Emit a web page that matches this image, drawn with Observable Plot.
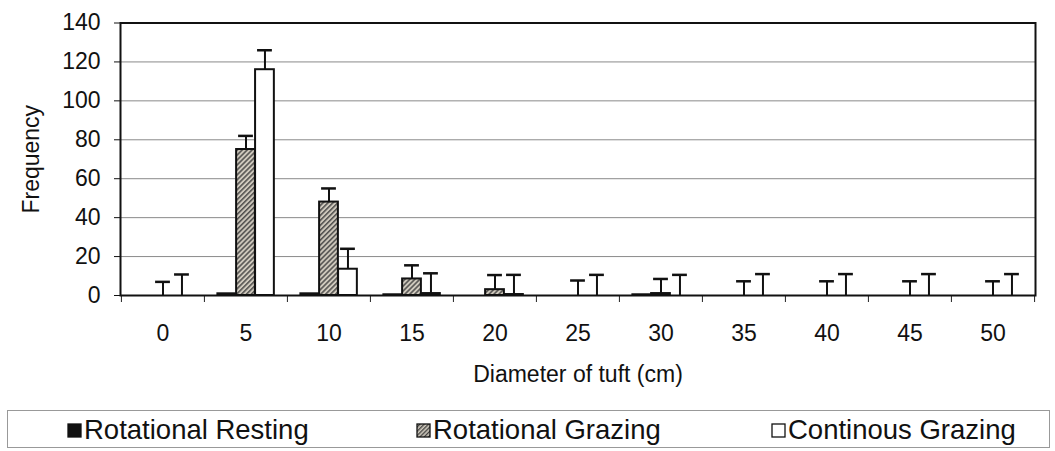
<!DOCTYPE html>
<html>
<head>
<meta charset="utf-8">
<script src="https://cdn.jsdelivr.net/npm/d3@7"></script>
<script src="https://cdn.jsdelivr.net/npm/@observablehq/plot@0.6"></script>
<style>
  body { margin: 0; background: #fff; font-family: "Liberation Sans", Arial, sans-serif; }
  #legend { position: relative; margin: 10px 5px 0 7px; height: 36px; border: 1px solid #999; font-size: 27.5px; color: #111; }
  #legend .item { position: absolute; top: 2px; display: flex; align-items: center; height: 34px; }
  #legend svg { margin-right: 2px; }
</style>
</head>
<body>
<div id="chart"></div>
<div id="legend"></div>
<script>
const diameters = ["0","5","10","15","20","25","30","35","40","45","50"];
const seriesNames = ["Rotational Resting","Rotational Grazing","Continous Grazing"];
const resting = [0, 1, 1, 0.5, 0, 0, 0.5, 0, 0, 0, 0];
const grazing = [0, 75, 48, 8.5, 3, 0, 1, 0, 0, 0, 0];
const grazingErr = [7, 82, 55, 15.5, 10.5, 7.7, 8.5, 7.3, 7.3, 7.3, 7.3];
const continuous = [0, 116, 13.5, 1, 0.5, 0, 0, 0, 0, 0, 0];
const continuousErr = [10.8, 126, 24, 11.4, 10.6, 10.6, 10.6, 11, 11, 11, 11];
const yTicks = [0, 20, 40, 60, 80, 100, 120, 140];

const width = 1055, height = 400;
const mL = 120, mR = 20, mT = 22.5, mB = 105;
const bw = (width - mL - mR) / diameters.length;
const barW = bw * 0.228;
const barInset = (bw - barW) / 2;
const capW = 15;
const capInset = (bw - capW) / 2;

const idx = diameters.map((d, i) => i);

const defsMark = () => {
  const defs = d3.create("svg:defs");
  const p = defs.append("pattern").attr("id", "hatch").attr("patternUnits", "userSpaceOnUse")
    .attr("width", 3.5).attr("height", 3.5).attr("patternTransform", "rotate(45)");
  p.append("rect").attr("width", 3.5).attr("height", 3.5).attr("fill", "#cfc9bd");
  p.append("line").attr("x1", 0.8).attr("y1", 0).attr("x2", 0.8).attr("y2", 3.5)
    .attr("stroke", "#3a3a3a").attr("stroke-width", 1.3);
  return defs.node();
};

const chart = Plot.plot({
  width, height,
  marginLeft: mL, marginRight: mR, marginTop: mT, marginBottom: mB,
  style: { fontFamily: "'Liberation Sans', Arial, sans-serif", fontSize: "23px", color: "#111", background: "#fff" },
  x: { domain: diameters, padding: 0, label: null },
  y: { domain: [0, 140], label: null },
  marks: [
    defsMark,
    Plot.ruleY([20, 40, 60, 80, 100, 120], { stroke: "#8a8a8a", strokeWidth: 1 }),
    Plot.axisY({ ticks: yTicks, tickSize: 6, tickPadding: 14, label: null, stroke: "#111" }),
    Plot.axisX({ tickSize: 0, tickPadding: 29.5, label: null }),
    Plot.ruleX(diameters, { x: d => d, dx: -bw / 2, insetTop: height - mT - mB, insetBottom: -7, stroke: "#222", strokeWidth: 1 }),
    Plot.ruleX([diameters[diameters.length - 1]], { x: d => d, dx: bw / 2, insetTop: height - mT - mB, insetBottom: -7, stroke: "#222", strokeWidth: 1 }),
    // bars
    Plot.barY(idx, { x: i => diameters[i], y: i => resting[i], dx: -barW, insetLeft: barInset, insetRight: barInset, fill: "#111", stroke: "#111", strokeWidth: 1.5 }),
    Plot.barY(idx, { x: i => diameters[i], y: i => grazing[i], insetLeft: barInset, insetRight: barInset, fill: "url(#hatch)", stroke: "#111", strokeWidth: 2 }),
    Plot.barY(idx, { x: i => diameters[i], y: i => continuous[i], dx: barW, insetLeft: barInset, insetRight: barInset, fill: "#fff", stroke: "#111", strokeWidth: 2 }),
    // error bars
    Plot.ruleX(idx, { x: i => diameters[i], y1: i => grazing[i], y2: i => grazingErr[i], stroke: "#111", strokeWidth: 2 }),
    Plot.tickY(idx, { x: i => diameters[i], y: i => grazingErr[i], insetLeft: capInset, insetRight: capInset, stroke: "#111", strokeWidth: 2.5 }),
    Plot.ruleX(idx, { x: i => diameters[i], y1: i => continuous[i], y2: i => continuousErr[i], dx: barW, stroke: "#111", strokeWidth: 2 }),
    Plot.tickY(idx, { x: i => diameters[i], y: i => continuousErr[i], dx: barW, insetLeft: capInset, insetRight: capInset, stroke: "#111", strokeWidth: 2.5 }),
    Plot.frame({ stroke: "#111", strokeWidth: 2 }),
    // axis titles
    Plot.text(["Frequency"], { frameAnchor: "left", textAnchor: "middle", dx: -89, rotate: -90, fontSize: 23, fill: "#111" }),
    Plot.text(["Diameter of tuft (cm)"], { frameAnchor: "bottom", dy: 86.5, fontSize: 23, fill: "#111" })
  ]
});
document.getElementById("chart").appendChild(chart);

// legend
const legend = d3.select("#legend");
const lpos = [59, 408, 763];
const swatchFill = ["#111", "url(#hatch2)", "#fff"];
seriesNames.forEach((name, k) => {
  const item = legend.append("div").attr("class", "item").style("left", lpos[k] + "px");
  const s = item.append("svg").attr("width", 15).attr("height", 15);
  if (k === 1) {
    const p = s.append("defs").append("pattern").attr("id", "hatch2").attr("patternUnits", "userSpaceOnUse")
      .attr("width", 3).attr("height", 3).attr("patternTransform", "rotate(45)");
    p.append("rect").attr("width", 3).attr("height", 3).attr("fill", "#cfc9bd");
    p.append("line").attr("x1", 0.7).attr("y1", 0).attr("x2", 0.7).attr("y2", 3).attr("stroke", "#333").attr("stroke-width", 1.2);
  }
  s.append("rect").attr("x", 1).attr("y", 1).attr("width", 13).attr("height", 13)
    .attr("fill", swatchFill[k]).attr("stroke", "#111").attr("stroke-width", 1.3);
  item.append("span").text(name);
});
</script>
</body>
</html>
